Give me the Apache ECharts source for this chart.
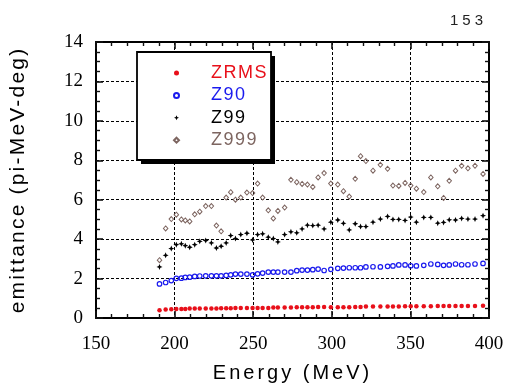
<!DOCTYPE html>
<html><head><meta charset="utf-8">
<script src="https://cdn.jsdelivr.net/npm/echarts@6/dist/echarts.min.js"></script>
<style>html,body{margin:0;padding:0;background:#fff}#c{width:510px;height:388px}</style>
</head><body><div id="c"></div>
<script>
const energy = [190.4,194.3,197.9,201.1,204.3,206.8,209.6,212.8,216.0,219.8,
 223.4,226.6,229.6,232.8,235.7,238.7,242.1,246.0,249.6,252.8,
 256.0,259.6,262.8,265.7,270.0,274.0,277.7,281.1,284.5,287.9,
 291.3,295.1,299.4,303.8,307.4,311.1,314.9,318.3,321.7,326.2,
 330.9,335.5,338.9,342.6,346.6,350.2,353.8,358.5,363.0,367.4,
 371.1,374.7,378.7,382.6,386.6,391.1,396.2];
const zrms = [0.39,0.43,0.44,0.46,0.46,0.46,0.48,0.48,0.48,0.48,
 0.48,0.48,0.49,0.49,0.49,0.51,0.51,0.51,0.51,0.51,
 0.51,0.51,0.53,0.53,0.53,0.53,0.54,0.54,0.54,0.54,
 0.56,0.56,0.55,0.55,0.55,0.55,0.56,0.56,0.58,0.58,
 0.58,0.58,0.58,0.58,0.59,0.60,0.60,0.60,0.60,0.61,
 0.61,0.61,0.61,0.61,0.61,0.61,0.62];
const z90 = [1.73,1.80,1.90,2.01,2.02,2.06,2.07,2.11,2.13,2.14,
 2.14,2.14,2.14,2.16,2.19,2.23,2.23,2.23,2.19,2.24,
 2.28,2.33,2.33,2.33,2.33,2.33,2.40,2.43,2.43,2.45,
 2.48,2.41,2.47,2.52,2.53,2.55,2.55,2.55,2.59,2.60,
 2.59,2.62,2.64,2.69,2.69,2.65,2.64,2.67,2.74,2.72,
 2.67,2.69,2.74,2.70,2.70,2.74,2.77];
const z99 = [2.59,3.18,3.52,3.72,3.76,3.67,3.59,3.72,3.89,3.93,
 3.81,3.55,3.64,3.81,4.18,4.03,4.23,4.30,3.96,4.23,
 4.27,4.10,4.03,3.86,4.23,4.37,4.32,4.52,4.71,4.69,
 4.71,4.52,4.86,4.97,4.80,4.47,4.78,4.64,4.64,4.86,
 5.02,5.15,5.00,5.00,4.95,5.12,4.86,5.10,5.10,4.81,
 4.85,4.98,4.97,5.05,5.02,5.02,5.19];
const z999 = [2.93,4.54,5.02,5.24,5.00,4.95,4.90,5.26,5.39,5.68,
 5.68,4.69,4.40,6.11,6.38,6.00,6.11,6.36,6.34,6.82,
 6.11,5.46,5.05,5.43,5.60,7.01,6.89,6.80,6.77,6.65,
 7.13,7.35,6.82,6.77,6.43,6.16,7.06,8.21,7.96,7.47,
 7.77,7.57,6.72,6.70,6.85,6.72,6.56,6.39,7.13,6.68,
 6.09,6.96,7.47,7.72,7.59,7.72,7.31];
const seriesNames = ['ZRMS','Z90','Z99','Z999'];
const seriesColors = ['#e8101a','#1a1aee','#000000','#7d6560'];
const pageNumber = '153';
const xTitle = 'Energy (MeV)';
const yTitle = 'emittance (pi-MeV-deg)';

// letter spacing for selected texts only (canvas letterSpacing)
const spacing = {};
spacing[xTitle]='3px'; spacing[yTitle]='2.2px'; spacing[pageNumber]='4px';
seriesNames.forEach(n=>spacing[n]='1.5px');
(function(){
  const P = CanvasRenderingContext2D.prototype;
  if(!('letterSpacing' in P)) return;
  const orig = P.fillText;
  P.fillText = function(t,x,y,m){
    this.letterSpacing = spacing[t] || '0px';
    if(m===undefined) orig.call(this,t,x,y); else orig.call(this,t,x,y,m);
    this.letterSpacing = '0px';
  };
})();

const pairs = arr => energy.map((e,i)=>[e, arr[i]]);
const serif = 'Liberation Serif';
const sans = 'Liberation Sans';
const star = 'path://M0,-10 L3,-3 L10,0 L3,3 L0,10 L-3,3 L-10,0 L-3,-3 Z';
const tickColor = '#111';

function axisCommon(extra){
  return Object.assign({
    type:'value',
    axisLine:{show:true,onZero:false,lineStyle:{color:'#000',width:2}},
    axisTick:{show:true,inside:true,length:7,lineStyle:{color:tickColor,width:1.6}},
    splitLine:{show:false},
    axisLabel:{show:false}
  }, extra);
}
const gridLineX = {show:true,lineStyle:{color:'#000',width:1,type:[3,2]}};
const gridLineY = {show:true,lineStyle:{color:'#000',width:1,type:[3,2]}};
const xMinor = () => ({show:true,splitNumber:5,length:4,lineStyle:{color:tickColor,width:1.4}});
const yMinor = () => ({show:true,splitNumber:4,length:4,lineStyle:{color:tickColor,width:1.4}});

const chart = echarts.init(document.getElementById('c'), null, {renderer:'canvas'});
chart.setOption({
  animation:false,
  backgroundColor:'#fff',
  title:{text:pageNumber,right:30,top:8,textStyle:{fontFamily:sans,fontSize:15,fontWeight:'normal',color:'#222'}},
  grid:{left:95,right:21,top:42,bottom:70},
  xAxis:[
    axisCommon({position:'bottom',min:150,max:400,interval:50,minorTick:xMinor(),
      splitLine:gridLineX,
      axisLabel:{show:true,margin:17,fontFamily:serif,fontSize:19,color:'#000'},
      name:xTitle,nameLocation:'middle',nameGap:45,
      nameTextStyle:{fontFamily:sans,fontSize:20,color:'#000'}}),
    axisCommon({position:'top',min:150,max:400,interval:50,minorTick:xMinor()})
  ],
  yAxis:[
    axisCommon({position:'left',min:0,max:14,interval:2,minorTick:yMinor(),
      splitLine:gridLineY,
      axisLabel:{show:true,margin:13,fontFamily:serif,fontSize:19,color:'#000',padding:[8,0,0,0]},
      name:yTitle,nameLocation:'middle',nameGap:67,nameRotate:90,
      nameTextStyle:{fontFamily:sans,fontSize:21,color:'#000'}}),
    axisCommon({position:'right',min:0,max:14,interval:2,minorTick:yMinor()})
  ],
  graphic:[
    {type:'rect',shape:{x:141,y:56,width:134,height:108},style:{fill:'#000'},z:10},
    {type:'rect',shape:{x:137,y:52,width:134,height:108},style:{fill:'#fff',stroke:'#000',lineWidth:1.8},z:11}
  ],
  legend:{
    orient:'vertical',left:173,top:62,padding:0,itemGap:0.4,
    itemWidth:5,itemHeight:5,z:20,
    data:seriesNames.map((n,i)=>({name:n,textStyle:{color:seriesColors[i]}})),
    textStyle:{fontFamily:sans,fontSize:18,lineHeight:22,padding:[0,0,0,27]}
  },
  series:[
    {name:'ZRMS',type:'scatter',data:pairs(zrms),symbol:'circle',symbolSize:4.5,
      itemStyle:{color:seriesColors[0],opacity:1}},
    {name:'Z90',type:'scatter',data:pairs(z90),symbol:'circle',symbolSize:4.5,
      itemStyle:{color:'rgba(255,255,255,0)',borderColor:seriesColors[1],borderWidth:1.2,opacity:1}},
    {name:'Z99',type:'scatter',data:pairs(z99),symbol:star,symbolSize:6,
      itemStyle:{color:seriesColors[2],opacity:1}},
    {name:'Z999',type:'scatter',data:pairs(z999),symbol:'diamond',symbolSize:[4.5,5],
      itemStyle:{color:'rgba(255,255,255,0)',borderColor:seriesColors[3],borderWidth:1,opacity:1}}
  ]
});
</script>
</body></html>
